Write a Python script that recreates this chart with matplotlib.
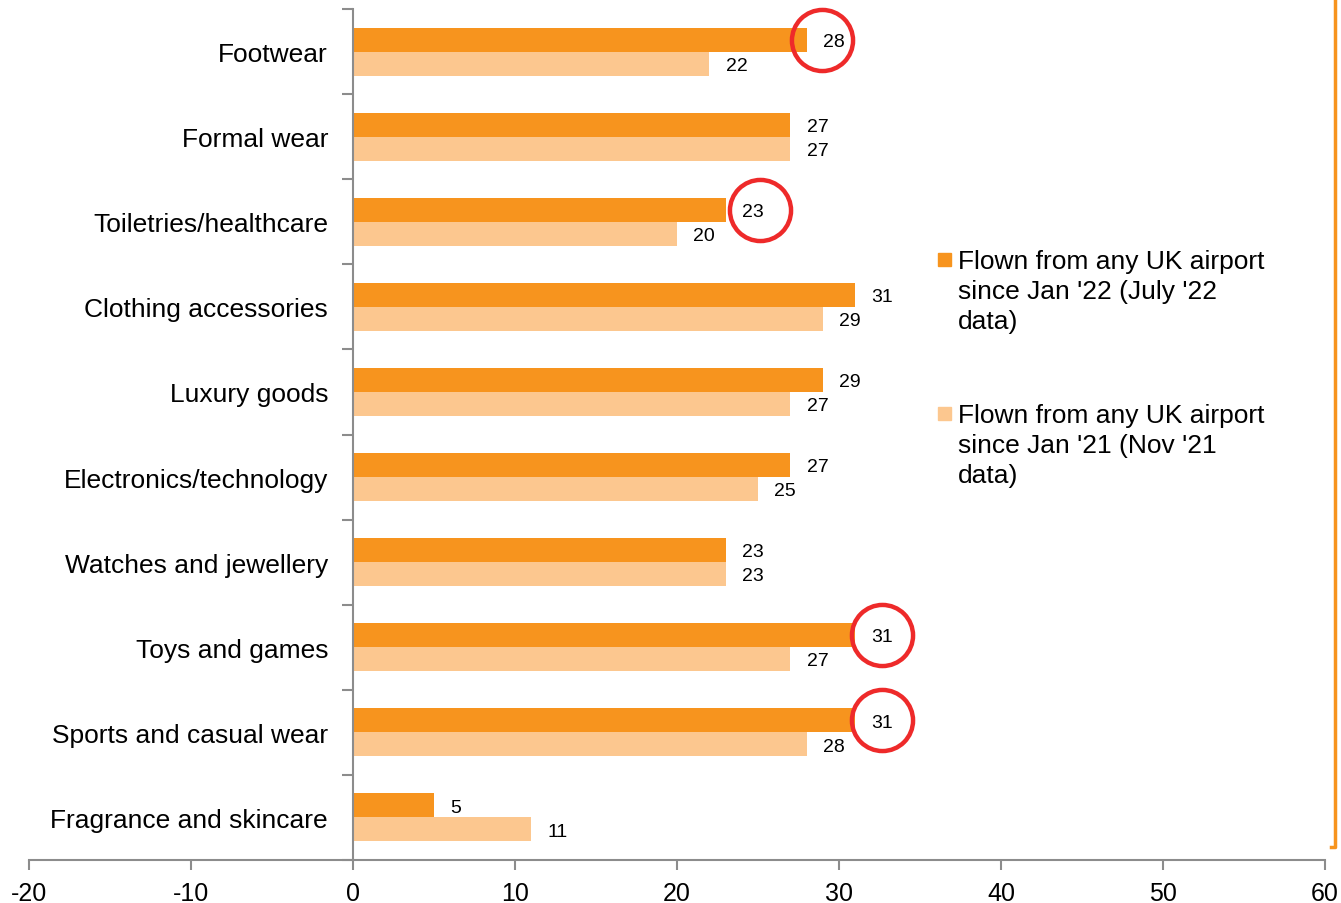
import matplotlib
matplotlib.use("Agg")
import matplotlib.pyplot as plt
from matplotlib.lines import Line2D
from matplotlib.patches import Rectangle
import numpy as np

plt.rcParams['font.family'] = ['Liberation Sans', 'DejaVu Sans']

categories = ["Footwear", "Formal wear", "Toiletries/healthcare", "Clothing accessories",
              "Luxury goods", "Electronics/technology", "Watches and jewellery",
              "Toys and games", "Sports and casual wear", "Fragrance and skincare"]
jul22 = [28, 27, 23, 31, 29, 27, 23, 31, 31, 5]
nov21 = [22, 27, 20, 29, 27, 25, 23, 27, 28, 11]
legend_labels = ["Flown from any UK airport\nsince Jan '22 (July '22\ndata)",
                 "Flown from any UK airport\nsince Jan '21 (Nov '21\ndata)"]
xticks = [-20, -10, 0, 10, 20, 30, 40, 50, 60]

# which bars got a red circle, and how far right of the bar end
circled = [0, 2, 7, 8]
circle_shift = [0.95, 2.1, 1.65, 1.65]

dark = "#F7941E"
light = "#FCC78F"
grey = "#8C8C8C"

W, H = 1341, 904
fig = plt.figure(figsize=(W / 100, H / 100), dpi=100)
ax = fig.add_axes([29 / W, 1 - 861 / H, (1325 - 29) / W, (861 - 10) / H])

# spines first, set_position resets the tick styling
for s in ['top', 'right']:
    ax.spines[s].set_visible(False)
ax.spines['left'].set_position(('data', 0))
ax.spines['left'].set_color(grey)
ax.spines['left'].set_linewidth(1.5)
ax.spines['bottom'].set_color(grey)
ax.spines['bottom'].set_linewidth(1.5)

y = np.arange(len(categories))
bh = 0.282
ax.barh(y - bh / 2, jul22, height=bh, color=dark)
ax.barh(y + bh / 2, nov21, height=bh, color=light)

for i in range(len(categories)):
    ax.text(jul22[i] + 1.0, y[i] - bh / 2 + 0.02, str(jul22[i]), va='center', ha='left', fontsize=14)
    ax.text(nov21[i] + 1.0, y[i] + bh / 2 + 0.02, str(nov21[i]), va='center', ha='left', fontsize=14)

for k, i in enumerate(circled):
    ax.plot(jul22[i] + circle_shift[k], y[i] - bh / 2, 'o', ms=44, mfc='none',
            mec='#EE2A2A', mew=3.2, clip_on=False)

ax.set_xlim(-20, 60)
ax.set_ylim(len(categories) - 0.5, -0.5)
ax.set_xticks(xticks)
ax.set_xticklabels([str(t) for t in xticks], fontsize=18)
ax.tick_params(axis='x', length=7, width=1.5, color=grey, pad=8)

ax.set_yticks(y)
ax.set_yticklabels(categories, fontsize=19)
ax.tick_params(axis='y', length=0, pad=18)
ax.set_yticks(np.arange(len(categories) + 1) - 0.5, minor=True)
ax.tick_params(axis='y', which='minor', length=8, width=1.5, color=grey)

# legend drawn by hand
for k, (lab, col) in enumerate(zip(legend_labels, [dark, light])):
    top = 250 + k * 154
    fig.add_artist(Rectangle((938 / W, 1 - (top + 17) / H), 13 / W, 13 / H,
                             transform=fig.transFigure, color=col))
    fig.text(958 / W, 1 - top / H, lab, fontsize=19, va='top', ha='left', linespacing=1.32)

# orange frame edge on the right
fig.add_artist(Line2D([1335 / W, 1335 / W, 1331 / W], [1.0, 1 - 848 / H, 1 - 848 / H],
                      transform=fig.transFigure, color=dark, lw=2.5))

fig.savefig("out.png", dpi=100)
